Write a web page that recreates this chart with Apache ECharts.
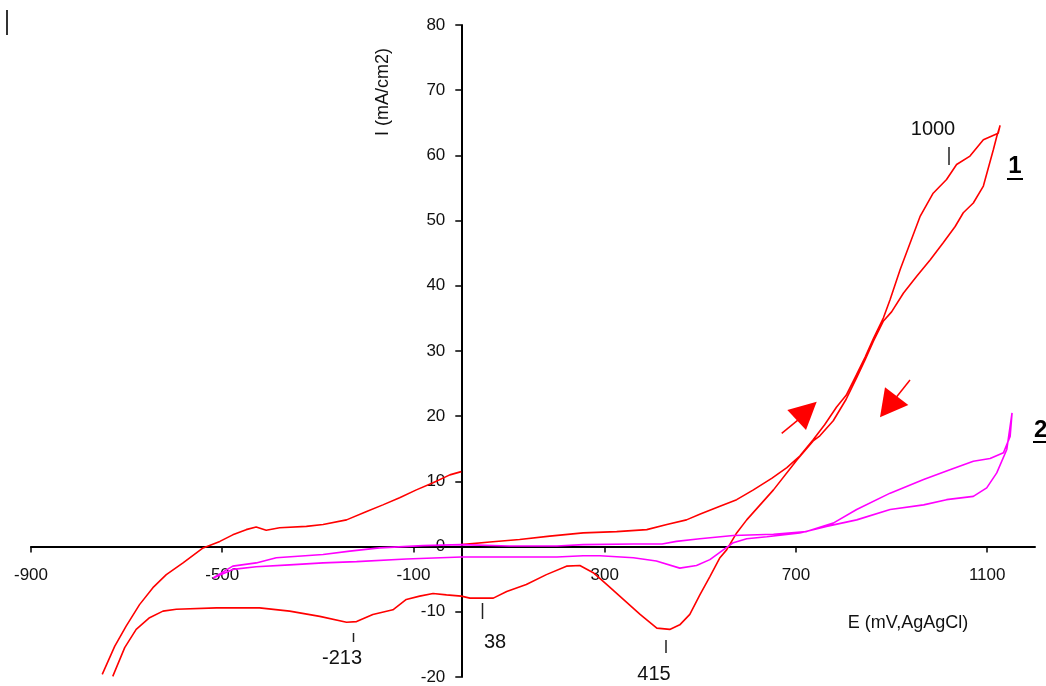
<!DOCTYPE html>
<html>
<head>
<meta charset="utf-8">
<script src="https://cdn.jsdelivr.net/npm/echarts@6/dist/echarts.min.js"></script>
<style>
  html, body { margin: 0; padding: 0; background: #fff; }
  #chart { width: 1046px; height: 686px; }
</style>
</head>
<body>
<div id="chart"></div>
<script>
// ---------- DATA ----------
const xTickValues = [-900, -500, -100, 300, 700, 1100];
const xRange = [-900, 1200];
const yRange = [-20, 80];

// Curve 1 (red) - left outer branch, ends at E = 0
const c1aE = [-751, -725, -701, -673, -645, -617, -582, -540, -505, -478, -450, -429, -408, -380, -324, -289, -240, -198, -164, -129, -94, -59, -24, 0];
const c1aI = [-19.6, -15.3, -12.2, -8.9, -6.3, -4.3, -2.5, -0.2, 0.8, 1.8, 2.6, 3.0, 2.5, 2.9, 3.1, 3.4, 4.1, 5.4, 6.4, 7.5, 8.7, 9.8, 11.0, 11.5];

// Curve 1 (red) - main loop from E = 0 up to 1127 and back to -729
const c1bE = [0, 60, 122, 185, 255, 325, 388, 430, 471, 500, 541, 576, 611, 650, 681, 708, 736, 760, 785, 805, 827, 845, 862, 883, 897, 918, 939, 960, 987, 1015, 1036, 1064, 1092, 1123, 1127,
  1120, 1113, 1092, 1071, 1050, 1033, 1008, 981, 953, 925, 900, 883, 862, 845, 827, 805, 778, 750, 736, 702, 653, 597, 576, 555, 541, 520, 499, 478, 457, 436, 409, 374, 339, 304, 276, 248, 220, 178, 136, 95, 67, 18, 0,
  -31, -59, -87, -115, -143, -185, -219, -240, -296, -359, -422, -512, -596, -624, -652, -680, -704, -729];
const c1bI = [0.3, 0.7, 1.1, 1.6, 2.1, 2.3, 2.6, 3.4, 4.1, 5.0, 6.2, 7.2, 8.7, 10.5, 12.1, 13.9, 16.4, 18.7, 21.4, 23.2, 26.4, 29.1, 31.9, 35.1, 37.9, 42.5, 46.6, 50.7, 54.2, 56.3, 58.6, 59.9, 62.4, 63.4, 64.6,
  62.9, 60.9, 55.3, 52.7, 51.2, 49.1, 46.6, 44.0, 41.5, 38.9, 36.0, 34.6, 31.5, 28.7, 25.9, 22.6, 19.3, 17.0, 16.2, 13.3, 8.7, 4.1, 2.1, -0.5, -1.7, -4.6, -7.4, -10.4, -12.0, -12.7, -12.5, -10.4, -8.1, -5.8, -4.0, -2.9, -3.0, -4.3, -5.8, -6.9, -7.9, -7.9, -7.6,
  -7.4, -7.2, -7.6, -8.1, -9.7, -10.4, -11.5, -11.6, -10.7, -9.9, -9.4, -9.4, -9.6, -9.9, -10.9, -12.7, -15.5, -19.9];

// Curve 2 (magenta) - closed loop
const c2E = [-519, -478, -429, -387, -289, -233, -171, -80, 0, 100, 200, 255, 360, 420, 450, 499, 569, 653, 722, 778, 827, 897, 967, 1022, 1071, 1106, 1134, 1148, 1152,
  1141, 1120, 1099, 1071, 1015, 967, 897, 827, 764, 708, 639, 597, 569, 548, 520, 492, 457, 408, 360, 290, 255, 200, 115, 0, -115, -219, -289, -359, -429, -478, -519];
const c2I = [-4.8, -3.0, -2.5, -1.7, -1.2, -0.7, -0.2, 0.15, 0.3, 0.1, 0.1, 0.3, 0.4, 0.4, 0.8, 1.2, 1.7, 1.9, 2.3, 3.6, 5.7, 8.2, 10.3, 11.8, 13.1, 13.5, 14.4, 16.9, 20.5,
  14.9, 11.3, 9.0, 7.7, 7.2, 6.4, 5.7, 4.1, 3.1, 2.1, 1.5, 1.2, 0.6, -0.5, -2.0, -2.9, -3.3, -2.2, -1.7, -1.4, -1.4, -1.6, -1.6, -1.6, -1.9, -2.3, -2.5, -2.8, -3.1, -3.5, -4.8];

// Annotations
const peakLabels = ['-213', '38', '415', '1000'];
const curveLabels = ['1', '2'];

const zip = (xs, ys) => xs.map((x, i) => [x, ys[i]]);

// ---------- CHART ----------
const W = 1046, H = 686;
const G = { left: 31, right: 11, top: 25, bottom: 9 };
const gridW = W - G.left - G.right, gridH = H - G.top - G.bottom;
// axes cross at the origin: shift each axis from its grid edge to the zero of the other axis
const xAxisOffset = -((0 - yRange[0]) / (yRange[1] - yRange[0])) * gridH;
const yAxisOffset = -((0 - xRange[0]) / (xRange[1] - xRange[0])) * gridW;

const chart = echarts.init(document.getElementById('chart'), null, { renderer: 'canvas' });
const FONT = "'Liberation Sans', Arial, sans-serif";
const RED = '#ff0000';
const MAG = '#ff00ff';

const textEl = (txt, x, y, size, opts) => Object.assign({
  type: 'text', x: x, y: y, z: 10,
  style: { text: txt, fill: '#111', font: size + 'px ' + FONT, align: 'center', verticalAlign: 'middle' }
}, opts || {});
const lineEl = (x1, y1, x2, y2, color, w) => ({
  type: 'line', z: 10,
  shape: { x1: x1, y1: y1, x2: x2, y2: y2 },
  style: { stroke: color, lineWidth: w }
});
const polyEl = (pts, color) => ({
  type: 'polygon', z: 10, shape: { points: pts }, style: { fill: color }
});

const option = {
  animation: false,
  backgroundColor: '#ffffff',
  grid: { left: G.left, right: G.right, top: G.top, bottom: G.bottom, containLabel: false, outerBoundsMode: 'none' },
  xAxis: {
    type: 'value', min: xRange[0], max: xRange[1], position: 'bottom', offset: xAxisOffset,
    axisLine: { onZero: false, lineStyle: { color: '#000', width: 2 } },
    axisTick: { show: true, length: 6, inside: false, customValues: xTickValues, lineStyle: { color: '#000', width: 1.5 } },
    axisLabel: { customValues: xTickValues, margin: 20, color: '#111', fontSize: 17, fontFamily: FONT,
      formatter: v => String(v) },
    splitLine: { show: false }
  },
  yAxis: {
    type: 'value', min: yRange[0], max: yRange[1], interval: 10, position: 'left', offset: yAxisOffset,
    axisLine: { show: true, onZero: false, lineStyle: { color: '#000', width: 2 } },
    axisTick: { show: true, length: 6, inside: false, lineStyle: { color: '#000', width: 1.5 } },
    axisLabel: { margin: 16, color: '#111', fontSize: 17, fontFamily: FONT, formatter: v => String(v) },
    splitLine: { show: false }
  },
  series: [
    { name: '1a', type: 'line', data: zip(c1aE, c1aI), showSymbol: false, symbol: 'none',
      lineStyle: { color: RED, width: 1.6 }, z: 3 },
    { name: '1b', type: 'line', data: zip(c1bE, c1bI), showSymbol: false, symbol: 'none',
      lineStyle: { color: RED, width: 1.6 }, z: 3 },
    { name: '2', type: 'line', data: zip(c2E, c2I), showSymbol: false, symbol: 'none',
      lineStyle: { color: MAG, width: 1.6 }, z: 4 }
  ],
  graphic: [
    lineEl(7, 10, 7, 35, '#333', 2),
    textEl('I (mA/cm2)', 383, 92, 18, { rotation: Math.PI / 2 }),
    textEl('E (mV,AgAgCl)', 908, 623, 18),
    textEl(peakLabels[0], 342, 658, 20), lineEl(353.5, 633, 353.5, 642, '#222', 1.5),
    textEl(peakLabels[1], 495, 642, 20), lineEl(482.5, 603, 482.5, 619, '#222', 1.5),
    textEl(peakLabels[2], 654, 674, 20), lineEl(666, 640, 666, 653, '#222', 1.5),
    textEl(peakLabels[3], 933, 129, 20), lineEl(949, 147, 949, 165, '#222', 1.5),
    textEl(curveLabels[0], 1015, 166, 24, { style: { text: curveLabels[0], fill: '#000', font: 'bold 24px ' + FONT, align: 'center', verticalAlign: 'middle' } }),
    lineEl(1007, 179, 1023, 179, '#000', 2),
    textEl(curveLabels[1], 1034, 430, 24, { style: { text: curveLabels[1], fill: '#000', font: 'bold 24px ' + FONT, align: 'left', verticalAlign: 'middle' } }),
    lineEl(1033, 442, 1046, 442, '#000', 2),
    lineEl(781.7, 433.3, 800, 418.3, RED, 1.5),
    polyEl([[787.3, 410], [816.7, 401.7], [806, 430]], RED),
    lineEl(910, 380, 896.7, 396.7, RED, 1.5),
    polyEl([[885, 387.3], [908.3, 405], [880, 417.3]], RED)
  ]
};
chart.setOption(option);
</script>
</body>
</html>
